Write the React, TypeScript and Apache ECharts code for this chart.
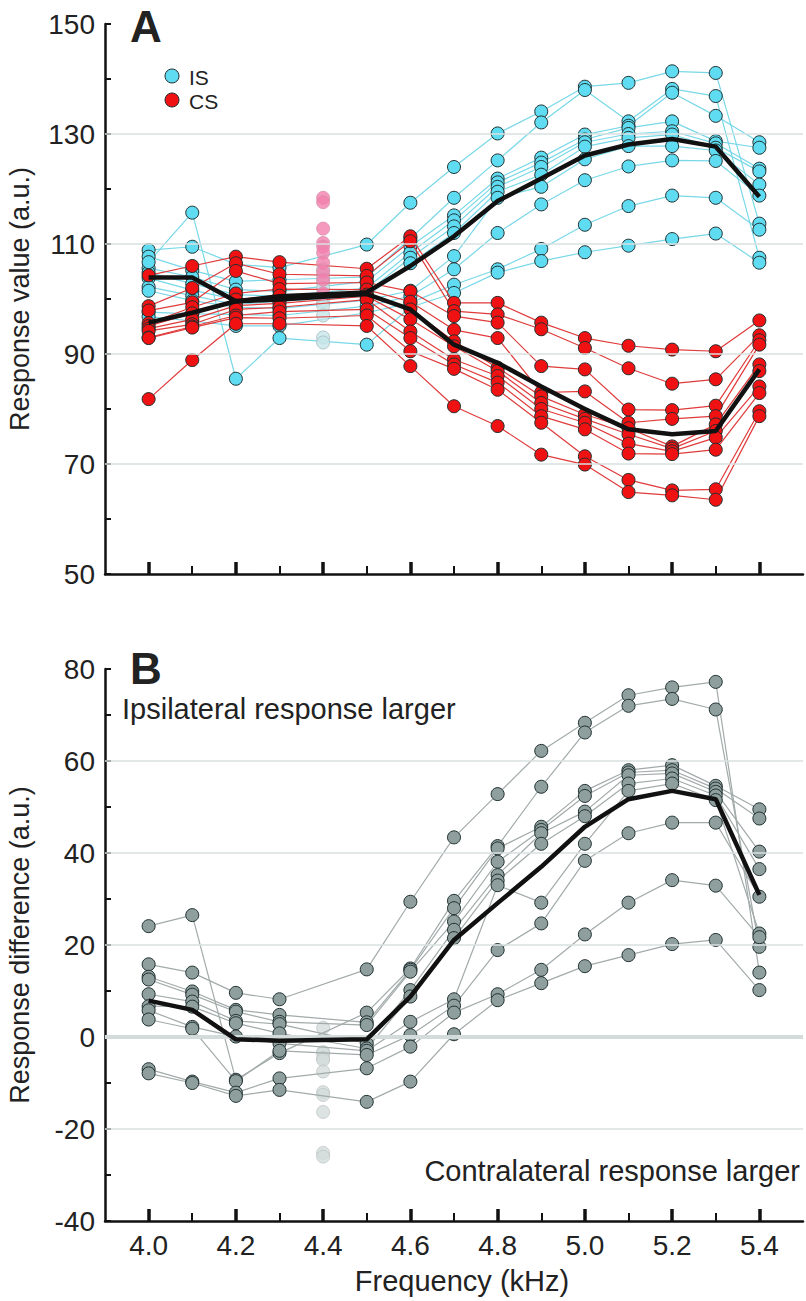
import React, { useEffect, useRef } from "react";
import * as echarts from "echarts";

const FONT = '"Liberation Sans", Arial, Helvetica, sans-serif';

// Frequencies (kHz); 4.4 is excluded from the connecting lines
const freqs = [4.0, 4.1, 4.2, 4.3, 4.4, 4.5, 4.6, 4.7, 4.8, 4.9, 5.0, 5.1, 5.2, 5.3, 5.4];
const majorTicks = [4.0, 4.2, 4.4, 4.6, 4.8, 5.0, 5.2, 5.4];
const minorTicks = [4.1, 4.3, 4.5, 4.7, 4.9, 5.1, 5.3];

// Panel A: ipsilateral stimulus (IS) responses per subject
const isSubjects = [
  [108.9, 109.5, 106.3, 105.7, null, 109.9, 117.5, 124.0, 130.1, 134.1, 138.6, 139.3, 141.4, 141.1, 113.7],
  [107.7, 105.2, 103.2, 103.5, null, 104.0, 111.0, 118.4, 125.2, 132.1, 138.0, 132.3, 138.2, 136.9, 107.5],
  [105.6, 104.0, 101.7, 101.4, null, 103.2, 109.6, 115.2, 121.9, 125.7, 129.9, 131.5, 137.5, 133.3, 128.5],
  [104.8, 102.8, 100.8, 100.5, null, 102.0, 108.4, 114.3, 121.2, 124.8, 129.0, 131.1, 132.3, 128.7, 127.5],
  [103.8, 101.6, 99.9, 100.2, null, 101.2, 107.5, 113.2, 120.4, 124.0, 128.5, 130.0, 130.5, 128.3, 123.7],
  [102.2, 100.6, 99.0, 99.6, null, 100.5, 106.5, 112.0, 119.5, 122.6, 127.7, 129.3, 129.9, 127.5, 123.2],
  [101.5, 99.7, 98.5, 98.3, null, 99.8, 101.5, 107.8, 118.4, 120.4, 125.4, 127.8, 127.8, 127.0, 120.8],
  [97.6, 97.3, 97.2, 97.0, null, 98.7, 100.5, 105.4, 112.0, 117.2, 121.6, 124.1, 125.2, 125.1, 118.8],
  [96.8, 96.0, 95.1, 95.1, null, 97.5, 99.3, 102.6, 105.4, 109.1, 113.5, 116.9, 118.8, 118.4, 112.6],
  [106.7, 115.7, 85.5, 92.9, null, 91.7, 98.5, 101.1, 104.8, 106.9, 108.5, 109.7, 110.9, 111.9, 106.6],
];

// Panel A: contralateral stimulus (CS) responses per subject
const csSubjects = [
  [104.3, 106.0, 107.7, 106.7, null, 105.5, 111.4, 99.3, 99.3, 95.7, 92.9, 91.5, 90.8, 90.5, 96.1],
  [98.7, 102.0, 106.5, 104.5, null, 104.2, 110.5, 97.8, 97.2, 94.5, 91.1, 87.4, 84.6, 85.4, 93.4],
  [97.9, 99.4, 105.1, 102.8, null, 103.0, 101.4, 96.9, 95.7, 87.8, 87.2, 79.9, 79.8, 80.6, 92.5],
  [95.6, 98.5, 101.0, 101.8, null, 101.7, 99.5, 94.4, 92.9, 83.0, 83.2, 77.5, 78.2, 78.7, 91.7],
  [95.1, 97.4, 99.9, 100.6, null, 100.8, 98.1, 92.3, 87.5, 82.3, 79.0, 76.5, 73.2, 77.2, 88.1],
  [94.6, 96.3, 98.8, 99.2, null, 100.5, 96.3, 91.4, 86.9, 81.1, 78.2, 75.4, 72.8, 76.0, 86.9],
  [94.2, 95.4, 98.1, 98.5, null, 99.9, 94.1, 89.0, 86.0, 80.0, 77.5, 73.7, 72.3, 74.8, 84.1],
  [93.0, 95.0, 97.0, 97.7, null, 98.1, 92.9, 88.1, 84.8, 78.7, 76.3, 71.9, 71.8, 72.6, 82.9],
  [92.9, 94.8, 96.6, 96.5, null, 97.0, 90.5, 87.3, 83.5, 77.5, 71.4, 67.1, 65.2, 65.4, 79.6],
  [81.8, 88.9, 95.5, 95.5, null, 95.1, 87.8, 80.5, 76.9, 71.7, 69.9, 64.9, 64.3, 63.5, 78.7],
];

const isMean = [103.9, 103.9, 99.6, 100.5, null, 101.2, 106.0, 111.4, 117.8, 121.9, 126.1, 128.1, 129.1, 127.7, 118.6];
const csMean = [95.7, 97.5, 99.6, 99.9, null, 100.9, 98.1, 91.7, 88.4, 84.1, 80.0, 76.3, 75.4, 76.0, 87.2];

// Faded points at 4.4 kHz
const isAt44 = [105.4, 104.2, 103.0, 102.0, 100.6, 99.5, 98.8, 97.0, 93.0, 92.1];
const csAt44 = [118.4, 117.6, 112.8, 110.2, 109.5, 108.4, 106.6, 105.0, 103.5, 101.0];

// Panel B: response difference per subject
const diffSubjects = [
  [15.8, 14.0, 9.6, 8.2, null, 14.7, 29.4, 43.4, 52.8, 62.2, 68.3, 74.3, 76.0, 77.2, 14.0],
  [24.1, 26.5, -9.3, -3.5, null, 5.3, 14.9, 29.6, 41.5, 54.4, 66.2, 72.0, 73.5, 71.2, 19.6],
  [13.1, 9.9, 5.9, 4.8, null, 3.2, 14.6, 28.0, 41.0, 45.7, 53.5, 58.0, 59.1, 54.6, 49.5],
  [12.5, 9.2, 5.5, 3.3, null, 2.6, 14.2, 25.1, 38.1, 45.0, 52.4, 57.5, 58.0, 54.0, 47.5],
  [9.3, 7.7, 3.5, 2.8, null, -1.4, 10.2, 23.3, 35.2, 44.3, 49.0, 56.9, 57.3, 53.3, 40.3],
  [6.7, 6.6, 3.0, 0.8, null, -2.5, 8.8, 21.5, 34.0, 42.0, 48.0, 55.1, 56.2, 52.5, 36.5],
  [5.8, 2.2, 0.1, -1.4, null, -3.0, 3.3, 8.2, 33.0, 29.2, 42.0, 53.5, 55.1, 51.5, 22.5],
  [3.8, 1.8, -9.6, -3.0, null, -3.9, 0.4, 6.8, 18.9, 24.7, 38.3, 44.3, 46.6, 46.6, 30.5],
  [-7.0, -9.7, -12.1, -9.0, null, -6.8, -2.1, 5.3, 9.3, 14.6, 22.3, 29.2, 34.1, 32.9, 21.7],
  [-7.9, -10.0, -12.8, -11.5, null, -14.1, -9.7, 0.6, 8.0, 11.7, 15.4, 17.8, 20.2, 21.1, 10.2],
];
const diffMean = [7.9, 5.9, -0.5, -0.8, null, -0.5, 8.8, 21.1, 29.1, 37.0, 45.7, 51.7, 53.5, 51.7, 30.9];
const diffAt44 = [2.0, -3.3, -3.5, -4.6, -5.0, -7.5, -12.0, -12.6, -16.3, -25.2, -26.0];

const gridLinesA = [70, 90, 110, 130];
const gridLinesB = [60, 40, 20, -20];

const toPts = (vals: (number | null)[]) =>
  freqs.map((f, i) => (vals[i] == null ? null : [f, vals[i] as number])).filter((p) => p !== null);

function xAxisPair(gridIndex: number, showLabels: boolean) {
  return [
    {
      type: "value", gridIndex, min: 3.9, max: 5.5, position: "bottom",
      axisLine: { show: true, onZero: false, lineStyle: { color: "#111", width: 2.5 } },
      axisTick: { show: true, inside: true, length: 12, lineStyle: { color: "#111", width: 3.5 }, customValues: majorTicks },
      axisLabel: {
        show: showLabels, customValues: majorTicks, formatter: (v: number) => v.toFixed(1),
        fontSize: 28, color: "#222", fontFamily: FONT, margin: 10,
      },
      splitLine: { show: false },
    },
    {
      type: "value", gridIndex, min: 3.9, max: 5.5, position: "bottom",
      axisLine: { show: false, onZero: false },
      axisTick: { show: true, inside: true, length: 8, lineStyle: { color: "#111", width: 2 }, customValues: minorTicks },
      axisLabel: { show: false },
      splitLine: { show: false },
    },
  ];
}

function yAxis(gridIndex: number, min: number, max: number) {
  return {
    type: "value", gridIndex, min, max, interval: 10,
    axisLine: { show: true, onZero: false, lineStyle: { color: "#111", width: 2.5 } },
    axisTick: { show: true, inside: true, length: 6, lineStyle: { color: "#111", width: 2 } },
    axisLabel: {
      formatter: (v: number) => ((v - min) % 20 === 0 ? String(v) : ""),
      fontSize: 28, color: "#222", fontFamily: FONT, margin: 10,
    },
    splitLine: { show: false },
  };
}

export default function App() {
  const ref = useRef<HTMLDivElement>(null);
  useEffect(() => {
    document.body.style.margin = "0";
    if (!ref.current) return;
    const chart = echarts.init(ref.current, null, { renderer: "svg" });

    const series: any[] = [];

    // gridlines
    series.push({
      type: "line", xAxisIndex: 0, yAxisIndex: 0, data: [], z: 1, silent: true,
      markLine: {
        silent: true, symbol: ["none", "none"], label: { show: false }, animation: false,
        lineStyle: { color: "#d9e0e0", width: 1.5, type: "solid" },
        data: gridLinesA.map((v) => ({ yAxis: v })),
      },
    });
    series.push({
      type: "line", xAxisIndex: 2, yAxisIndex: 1, data: [], z: 1, silent: true,
      markLine: {
        silent: true, symbol: ["none", "none"], label: { show: false }, animation: false,
        lineStyle: { color: "#d9e0e0", width: 1.5, type: "solid" },
        data: [
          ...gridLinesB.map((v) => ({ yAxis: v })),
          { yAxis: 0, lineStyle: { color: "#d3dbdb", width: 4, type: "solid" } },
        ],
      },
    });

    const subjLine = (vals: (number | null)[], xi: number, yi: number, fill: string, line: string, z: number) => ({
      type: "line", xAxisIndex: xi, yAxisIndex: yi, data: toPts(vals), z,
      symbol: "circle", symbolSize: 13, showSymbol: true, showAllSymbol: true,
      itemStyle: { color: fill, borderColor: "#1f2f30", borderWidth: 1 },
      lineStyle: { color: line, width: 1.2 },
      emphasis: { disabled: true },
    });

    isSubjects.forEach((s) => series.push(subjLine(s, 0, 0, "#5fdcf2", "#78d8e8", 2)));
    series.push({
      type: "scatter", xAxisIndex: 0, yAxisIndex: 0, z: 2, symbolSize: 13,
      data: isAt44.map((v) => [4.4, v]),
      itemStyle: { color: "#c6e6ea", borderColor: "#a7bcbe", borderWidth: 1 },
    });
    csSubjects.forEach((s) => series.push(subjLine(s, 0, 0, "#f01212", "#e03a3a", 3)));
    series.push({
      type: "scatter", xAxisIndex: 0, yAxisIndex: 0, z: 3, symbolSize: 13,
      data: csAt44.map((v) => [4.4, v]),
      itemStyle: { color: "#f27fae", borderColor: "#d890aa", borderWidth: 1 },
    });

    const meanLine = (vals: (number | null)[], xi: number, yi: number) => ({
      type: "line", xAxisIndex: xi, yAxisIndex: yi, data: toPts(vals), z: 6,
      symbol: "none", lineStyle: { color: "#111", width: 4.5 }, emphasis: { disabled: true },
    });
    series.push(meanLine(isMean, 0, 0));
    series.push(meanLine(csMean, 0, 0));

    diffSubjects.forEach((s) => series.push(subjLine(s, 2, 1, "#8f9f9d", "#a2abaa", 3)));
    series.push({
      type: "scatter", xAxisIndex: 2, yAxisIndex: 1, z: 2, symbolSize: 13,
      data: diffAt44.map((v) => [4.4, v]),
      itemStyle: { color: "#d3dcdb", borderColor: "#bfc8c7", borderWidth: 1 },
    });
    series.push(meanLine(diffMean, 2, 1));

    const txt = (text: string, x: number, y: number, size: number, extra: any = {}) => ({
      type: "text", x, y, silent: true,
      style: {
        text, fontSize: size, fontFamily: FONT, fill: "#222",
        textAlign: extra.align || "left", align: extra.align || "left",
        textVerticalAlign: "middle", verticalAlign: "middle",
        fontWeight: extra.weight || "normal",
      },
      rotation: extra.rotation || 0,
    });

    chart.setOption({
      animation: false,
      grid: [
        { left: 105, top: 24, width: 698, height: 550 },
        { left: 105, top: 669, width: 698, height: 552 },
      ],
      xAxis: [...xAxisPair(0, false), ...xAxisPair(1, true)],
      yAxis: [yAxis(0, 50, 150), yAxis(1, -40, 80)],
      series,
      graphic: [
        txt("A", 130, 26, 44, { weight: "bold" }),
        txt("B", 130, 668, 44, { weight: "bold" }),
        { type: "circle", shape: { cx: 172, cy: 76, r: 7 }, style: { fill: "#5fdcf2", stroke: "#1f2f30", lineWidth: 1 } },
        { type: "circle", shape: { cx: 172, cy: 100, r: 7 }, style: { fill: "#f01212", stroke: "#1f2f30", lineWidth: 1 } },
        txt("IS", 189, 77, 21),
        txt("CS", 189, 101, 21),
        txt("Response value (a.u.)", 20, 299, 27, { align: "center", rotation: Math.PI / 2 }),
        txt("Response difference (a.u.)", 20, 945, 27, { align: "center", rotation: Math.PI / 2 }),
        txt("Ipsilateral response larger", 122, 709, 29),
        txt("Contralateral response larger", 800, 1171, 29, { align: "right" }),
        txt("Frequency (kHz)", 462, 1281, 29, { align: "center" }),
      ],
    });
    return () => chart.dispose();
  }, []);
  return <div ref={ref} style={{ width: 806, height: 1301 }} />;
}
